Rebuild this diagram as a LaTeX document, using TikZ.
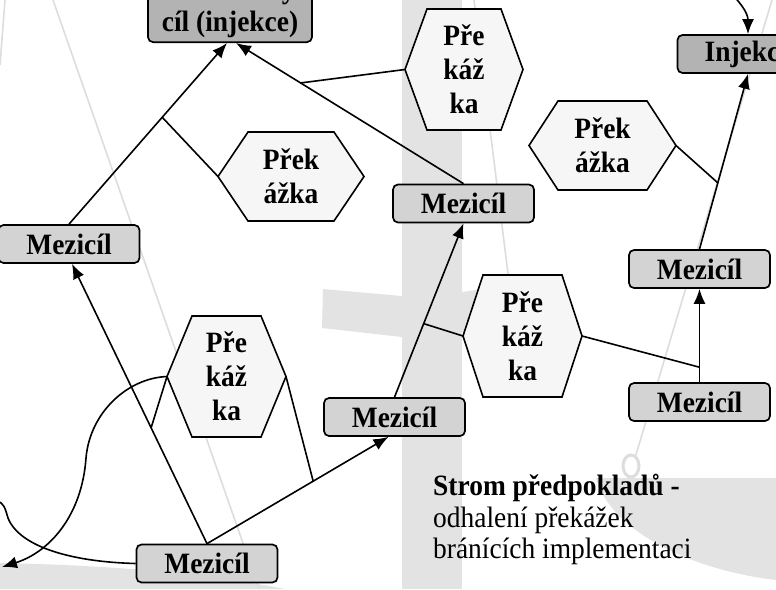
\documentclass[tikz,border=0pt]{standalone}
\usepackage{fontspec}
\setmainfont{Liberation Serif}[FakeStretch=0.93]
\usetikzlibrary{arrows.meta,calc}
\definecolor{midgray}{HTML}{D3D3D3}
\definecolor{goalgray}{HTML}{B3B3B3}
\definecolor{hexgray}{HTML}{F6F6F6}
\definecolor{bandgray}{HTML}{E3E3E3}
\definecolor{linegray}{HTML}{DDDDDD}
\tikzset{
  mbox/.style={draw=black, line width=1.7pt, rounded corners=5pt, fill=midgray,
    minimum width=141pt, minimum height=38pt, inner sep=0pt,
    font=\fontsize{29.5}{33}\selectfont\bfseries},
  gbox/.style={mbox, fill=goalgray},
  hexfill/.style={draw=black, line width=1.6pt, fill=hexgray},
  hextext/.style={align=center, inner sep=0pt, font=\fontsize{29.5}{34}\selectfont\bfseries},
  conn/.style={line width=1.6pt},
  arr/.style={conn, -{Latex[length=15pt,width=12pt]}},
  bgshape/.style={fill=bandgray, draw=none},
  bgline/.style={draw=linegray, line width=1.6pt},
  captext/.style={anchor=base west, inner sep=0pt, font=\fontsize{29.5}{33}\selectfont},
}
% name, cx, cy, half-width, half-height, inset, text
\newcommand{\hexnode}[7]{%
  \filldraw[hexfill] (#2-#4,#3) -- (#2-#4+#6,#3-#5) -- (#2+#4-#6,#3-#5) -- (#2+#4,#3)
     -- (#2+#4-#6,#3+#5) -- (#2-#4+#6,#3+#5) -- cycle;
  \coordinate (#1-l) at (#2-#4,#3);
  \coordinate (#1-r) at (#2+#4,#3);
  \node[hextext] (#1) at (#2,#3) {#7};}
\begin{document}
\begin{tikzpicture}[x=1pt,y=-1pt]
\useasboundingbox (0,0) rectangle (776,589);
\fill[white] (0,0) rectangle (776,589);
% background watermark
\fill[bgshape] (402,0) rectangle (462,589);
\fill[bgshape] (323,289) -- (402,296) -- (402,337) -- (322,328) -- cycle;
\fill[bgshape] (462,292) -- (490,288) -- (490,328) -- (462,332) -- cycle;
\fill[bgshape] (0,563) .. controls (100,565) and (200,572) .. (285,589) -- (0,589) -- cycle;
\fill[bgshape] (596,478) -- (776,478) -- (776,580) .. controls (690,570) and (610,530) .. (596,478) -- cycle;
\draw[bgline] (53,0) -- (259,589);
\draw[bgline] (0,65) -- (5,0);
\draw[bgline] (474,0) -- (510,290);
\draw[bgline] (772,0) -- (635,458);
\draw[linegray, line width=3pt] (631,466) ellipse [x radius=8, y radius=11];
% hexagons
\hexnode{H1}{464}{69.5}{59}{60.5}{22}{Pře\\káž\\ka}
\hexnode{H2}{291}{176.5}{73}{44.5}{30}{Přek\\ážka}
\hexnode{H3}{602.5}{145.5}{73.5}{44.5}{29}{Přek\\ážka}
\hexnode{H4}{226.5}{376.5}{59.5}{60.5}{25}{Pře\\káž\\ka}
\hexnode{H5}{522.5}{336}{59.5}{61}{20}{Pře\\káž\\ka}
% boxes
\node[gbox, minimum width=164pt, align=center, anchor=south, inner ysep=4pt] (G) at (230,43) {Očekávaný\\cíl (injekce)};
\node[gbox] (inj) at (748,54) {Injekce};
\node[mbox] (a) at (69,244) {Mezicíl};
\node[mbox] (b) at (463.5,203.5) {Mezicíl};
\node[mbox] (c) at (207,563.5) {Mezicíl};
\node[mbox] (d) at (394.5,417) {Mezicíl};
\node[mbox] (e) at (699.5,269) {Mezicíl};
\node[mbox] (f) at (699.5,402) {Mezicíl};
% caption
\node[captext, font=\fontsize{29.5}{33}\selectfont\bfseries] (t1) at (433,495) {Strom předpokladů -};
\node[captext] (t2) at (433,527) {odhalení překážek};
\node[captext] (t3) at (433,558) {bránících implementaci};
% free ends
\coordinate (o1) at (2,567);
\coordinate (o2) at (-3,501);
\coordinate (o3) at (728,-10);
% main connectors
\draw[arr] (a.north) -- ([xshift=-3pt]G.south) coordinate[pos=0.59] (b1);
\draw[arr] (b.north) -- ([xshift=6pt]G.south) coordinate[pos=0.716] (b2);
\draw[arr] (c.north) -- ([xshift=3pt]a.south) coordinate[pos=0.414] (b4);
\draw[arr] (c.north) -- ([xshift=-6pt]d.south) coordinate[pos=0.585] (b3);
\draw[arr] (d.north) -- (b.south) coordinate[pos=0.423] (b5);
\draw[arr] (f.north) -- (e.south) coordinate[pos=0.16] (b6);
\draw[arr] (e.north) -- (inj.south) coordinate[pos=0.378] (b7);
% obstacle branches
\draw[conn] (b1) -- (H2-l);
\draw[conn] (b2) -- (H1-l);
\draw[conn] (b3) -- (H4-r);
\draw[conn] (b4) -- (H4-l);
\draw[conn] (b5) -- (H5-l);
\draw[conn] (b6) -- (H5-r);
\draw[conn] (H3-r) -- (b7);
% curves
\draw[arr] (H4-l) .. controls (128,378) and (90,412) .. (86,458) .. controls (82,515) and (50,552) .. (o1);
\draw[conn] (c.west) .. controls (75,562) and (20,548) .. (8,518) .. controls (5,508) and (4,503) .. (o2);
\draw[arr] (o3) .. controls (738,0) and (748,12) .. (inj.north);
\end{tikzpicture}
\end{document}
